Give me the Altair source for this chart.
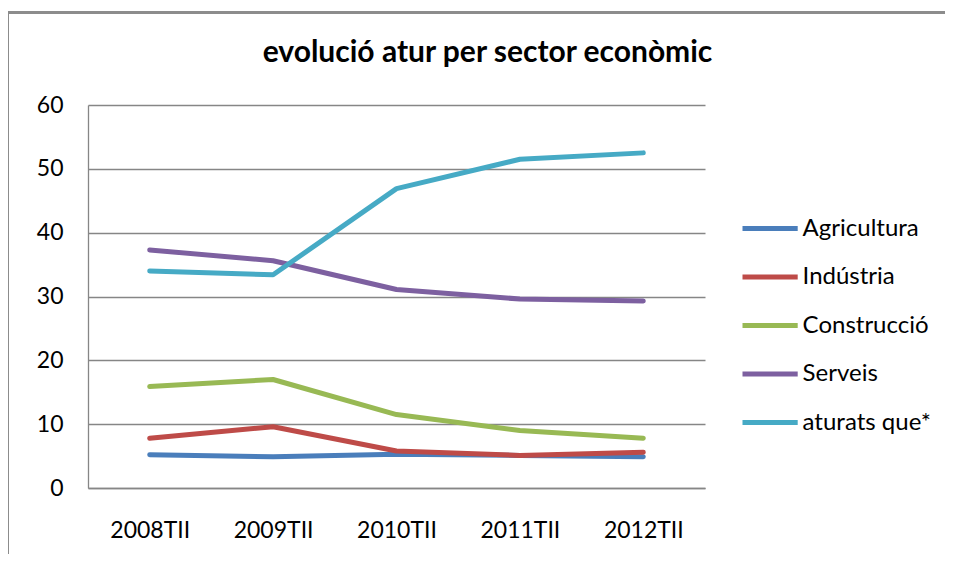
import altair as alt
import pandas as pd

periods = ["2008TII", "2009TII", "2010TII", "2011TII", "2012TII"]
series_names = ["Agricultura", "Indústria", "Construcció", "Serveis", "aturats que*"]
agricultura = [5.2, 4.9, 5.3, 5.1, 4.9]
industria = [7.8, 9.6, 5.8, 5.1, 5.6]
construccio = [15.9, 17.0, 11.5, 9.0, 7.8]
serveis = [37.3, 35.6, 31.1, 29.6, 29.3]
aturats = [34.0, 33.4, 46.9, 51.5, 52.5]
colors = ["#4A7EBB", "#BE4B48", "#98B954", "#7D60A0", "#46AAC5"]
y_ticks = [0, 10, 20, 30, 40, 50, 60]

values = [agricultura, industria, construccio, serveis, aturats]
rows = []
for name, vals in zip(series_names, values):
    for p, v in zip(periods, vals):
        rows.append({"period": p, "serie": name, "value": v})
df = pd.DataFrame(rows)

FONT = "Lato"
GRID = "#868686"

lines = alt.Chart(df).mark_line(strokeWidth=5, strokeCap="round", strokeJoin="round").encode(
    x=alt.X("period:N", sort=periods,
            scale=alt.Scale(type="point", padding=0.5),
            axis=alt.Axis(title=None, labelAngle=0, ticks=False, grid=False,
                          domainColor=GRID, domainWidth=1.3,
                          labelFont=FONT, labelFontSize=23, labelColor="#000000",
                          labelPadding=31)),
    y=alt.Y("value:Q", scale=alt.Scale(domain=[0, 60], nice=False),
            axis=alt.Axis(title=None, values=y_ticks, ticks=False, grid=True,
                          gridColor=GRID, gridWidth=1.3,
                          domainColor=GRID, domainWidth=1.3,
                          labelFont=FONT, labelFontSize=23, labelColor="#000000",
                          labelPadding=25)),
    color=alt.Color("serie:N", sort=series_names,
                    scale=alt.Scale(domain=series_names, range=colors),
                    legend=alt.Legend(title=None, orient="none",
                                      legendX=655.6, legendY=97,
                                      symbolType="M-1.15,0H1.15",
                                      symbolSize=2304, symbolStrokeWidth=5,
                                      labelFont=FONT, labelFontSize=24,
                                      labelColor="#000000", labelOffset=6,
                                      rowPadding=9.5, labelLimit=300, padding=0)),
    order=alt.Order("period:N"),
)

frame_left = alt.Chart(df).mark_rule(color="#8c8c8c", strokeWidth=1.5).encode(
    x=alt.value(-80), y=alt.value(-92.5), y2=alt.value(500))
frame_top = alt.Chart(df).mark_rule(color="#8c8c8c", strokeWidth=1.5).encode(
    x=alt.value(-80), x2=alt.value(900), y=alt.value(-92.5))

chart = alt.layer(frame_left, frame_top, lines).properties(
    width=617, height=383,
    autosize=alt.AutoSizeParams(type="none"),
    padding={"left": 80, "top": 97, "right": 240, "bottom": 66},
    title=alt.TitleParams(text="evolució atur per sector econòmic", font=FONT,
                          fontSize=30, fontWeight="bold", color="#000000",
                          anchor="middle", dx=91, offset=-80.5, baseline="alphabetic"),
    background="white",
).configure_view(stroke=None)

chart.save("out.html", embed_options={"renderer": "svg", "actions": False})
